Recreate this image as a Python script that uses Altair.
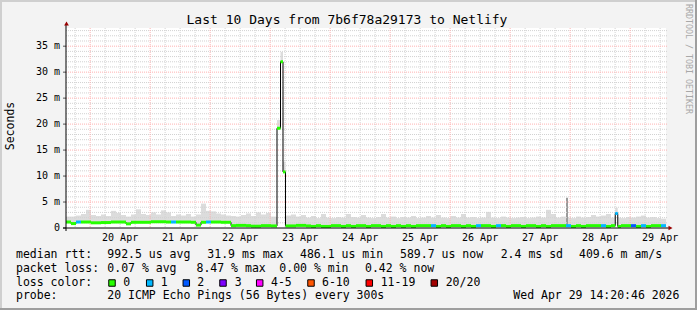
import altair as alt
import pandas as pd

# ---------------- data ----------------
T0 = 14.35          # first sample: 19 Apr 14:20, in hours after 19 Apr 00:00
SLOT = 2.0          # hours per consolidated step

# median rtt per 2-hour step, milliseconds
med_ms = [
    1.15, 0.85, 1.15, 1.15, 1.15, 1.0, 1.0, 1.05, 1.05, 1.15,
    1.15, 1.15, 0.8, 1.1, 1.1, 1.1, 1.1, 1.2, 1.2, 1.2,
    1.15, 1.15, 1.15, 1.15, 1.15, 1.1, 0.55, 1.1, 1.15, 1.15,
    1.15, 1.1, 1.1, 0.45, 0.5, 0.5, 0.45, 0.35, 0.35, 0.45,
    0.45, 0.4, 0.4, 0.4, 0.4, 0.4, 0.5, 0.5, 0.4, 0.3,
    0.45, 0.3, 0.3, 0.45, 0.45, 0.3, 0.45, 0.3, 0.45, 0.45,
    0.3, 0.45, 0.45, 0.3, 0.45, 0.3, 0.45, 0.3, 0.45, 0.3,
    0.45, 0.45, 0.45, 0.45, 0.3, 0.45, 0.3, 0.45, 0.45, 0.3,
    0.45, 0.3, 0.45, 0.45, 0.45, 0.3, 0.45, 0.45, 0.3, 0.45,
    0.45, 0.3, 0.45, 0.45, 0.3, 0.45, 0.3, 0.45, 0.45, 0.45,
    0.45, 0.3, 0.45, 0.3, 0.45, 0.45, 0.45, 0.45, 0.3, 0.45,
    0.3, 0.45, 0.45, 0.45, 0.3, 0.45, 0.3, 0.45, 0.45, 0.45,
]
# upper edge of the smoke per 2-hour step, milliseconds
top_ms = [
    2.2, 2.2, 2.4, 2.7, 3.5, 2.5, 2.3, 2.6, 2.3, 3.3,
    2.9, 2.5, 2.2, 2.6, 3.6, 2.7, 2.5, 3.0, 2.6, 3.4,
    3.0, 2.3, 2.6, 2.4, 2.7, 2.2, 2.6, 4.7, 3.3, 3.2,
    2.8, 2.6, 2.4, 2.3, 2.2, 2.5, 2.8, 2.3, 3.0, 2.6,
    2.9, 2.2, 2.0, 2.0, 2.4, 2.6, 2.2, 2.5, 2.0, 2.3,
    1.9, 2.7, 2.0, 1.9, 2.1, 2.0, 2.7, 2.1, 2.0, 2.5,
    2.0, 1.9, 2.1, 2.7, 2.0, 2.2, 1.9, 2.1, 2.0, 2.3,
    1.9, 2.0, 2.3, 2.0, 2.5, 2.0, 1.9, 2.3, 2.0, 2.7,
    2.0, 2.1, 1.9, 2.0, 3.1, 2.0, 1.9, 2.2, 2.0, 1.9,
    2.0, 2.1, 1.9, 2.0, 2.2, 2.0, 3.5, 2.7, 2.0, 2.2,
    2.0, 1.9, 2.2, 2.0, 2.1, 2.5, 2.2, 2.4, 2.7, 2.0,
    2.0, 1.9, 2.1, 2.0, 2.2, 2.4, 2.0, 2.1, 1.9, 1.8,
]
# lost pings (of 20) per 2-hour step
loss = [
    0, 0, 1, 0, 0, 0, 0, 0, 0, 0,
    0, 0, 0, 0, 0, 0, 0, 0, 0, 0,
    0, 1, 0, 0, 0, 0, 0, 0, 1, 0,
    0, 0, 0, 0, 0, 0, 0, 0, 0, 0,
    0, 0, 0, 0, 0, 0, 0, 0, 0, 0,
    0, 0, 0, 0, 0, 0, 0, 0, 0, 0,
    0, 0, 0, 0, 0, 0, 0, 0, 0, 0,
    0, 0, 0, 1, 0, 0, 0, 0, 0, 0,
    0, 0, 1, 0, 0, 0, 1, 0, 0, 0,
    0, 0, 0, 0, 0, 0, 0, 0, 0, 0,
    1, 0, 0, 0, 0, 0, 0, 1, 0, 0,
    0, 0, 0, 2, 0, 1, 0, 0, 0, 1,
]
# short latency spikes (hours after 19 Apr 00:00)
spike_start_h = [98.75, 100.15, 101.15, 234.05]
spike_end_h = [100.15, 101.15, 102.15, 235.05]
spike_med_ms = [19.2, 32.0, 10.8, 2.8]
spike_top_ms = [20.8, 33.9, 12.8, 3.9]
spike_loss = [0, 0, 0, 1]
# single dense smoke outlier (27 Apr)
out_start_h = [214.35]
out_end_h = [215.15]
out_base_ms = [0.45]
out_top_ms = [5.8]

day_labels = ["20 Apr", "21 Apr", "22 Apr", "23 Apr", "24 Apr",
              "25 Apr", "26 Apr", "27 Apr", "28 Apr", "29 Apr"]
day_noon_h = [36, 60, 84, 108, 132, 156, 180, 204, 228, 252]
y_tick_vals = [0, 5, 10, 15, 20, 25, 30, 35]
y_tick_text = ["0", "5 m", "10 m", "15 m", "20 m", "25 m", "30 m", "35 m"]

loss_names = ["0", "1", "2", "3", "4-5", "6-10", "11-19", "20/20"]
loss_colors = ["#26ff00", "#00b8ff", "#0059ff", "#7e00ff",
               "#ff00ff", "#ff5500", "#ff0000", "#a10000"]

title_text = "Last 10 Days from 7b6f78a29173 to Netlify"
row1 = ["median rtt:", "992.5 us avg", "31.9 ms max", "486.1 us min",
        "589.7 us now", "2.4 ms sd", "409.6 m am/s"]
row2 = ["packet loss:", "0.07 % avg", "8.47 % max", "0.00 % min", "0.42 % now"]
row3_head = "loss color:"
row4 = ["probe:", "20 ICMP Echo Pings (56 Bytes) every 300s",
        "Wed Apr 29 14:20:46 2026"]

# ---------------- layout ----------------
PL, PT, W, H = 66, 28, 600, 200
TOTAL_W, TOTAL_H = 697, 310
FONT = "DejaVu Sans Mono"
YMAX = 38.5

N = len(med_ms)
assert len(top_ms) == N and len(loss) == N

xs = alt.Scale(domain=[T0, T0 + SLOT * N], nice=False, zero=False)
ys = alt.Scale(domain=[0, YMAX], nice=False, zero=False)

# build step pieces
pieces = [dict(s=T0 + SLOT * k, e=T0 + SLOT * (k + 1), med=med_ms[k],
               top=top_ms[k], loss=loss[k]) for k in range(N)]
for s, e, m, t, l in zip(spike_start_h, spike_end_h, spike_med_ms,
                         spike_top_ms, spike_loss):
    new = []
    for p in pieces:
        if p["e"] <= s or p["s"] >= e:
            new.append(p)
            continue
        if p["s"] < s:
            new.append({**p, "e": s})
        if p["e"] > e:
            new.append({**p, "s": e})
    new.append(dict(s=s, e=e, med=m, top=t, loss=l))
    pieces = sorted(new, key=lambda p: p["s"])

seg = pd.DataFrame(pieces)
seg["col"] = [loss_colors[min(int(v), 2)] for v in seg["loss"]]
pts = []
for i, p in enumerate(pieces):
    pts.append(dict(t=p["s"], v=p["med"], o=2 * i))
    pts.append(dict(t=p["e"], v=p["med"], o=2 * i + 1))
line_df = pd.DataFrame(pts)
out_df = pd.DataFrame(dict(s=out_start_h, e=out_end_h, b=out_base_ms, t=out_top_ms))

# grids
minor_v = [h for h in range(18, 255, 6) if h % 24 != 0]
major_v = [h for h in range(24, 255, 24)]
minor_h = [v for v in range(1, 39) if v % 5 != 0]
major_h = [v for v in range(5, 39, 5)]

layers = []

smoke = alt.Chart(seg).mark_rect(color="#dcdcdc").encode(
    x=alt.X("s:Q", scale=xs, axis=None), x2="e:Q",
    y=alt.Y("med:Q", scale=ys, axis=None), y2="top:Q")
layers.append(smoke)

outl = alt.Chart(out_df).mark_rect(color="#9a9a9a").encode(
    x=alt.X("s:Q", scale=xs, axis=None), x2="e:Q",
    y=alt.Y("b:Q", scale=ys, axis=None), y2="t:Q")
layers.append(outl)

MINOR_C = "#d2d2d2"
MAJOR_C = "#ffb2b2"
gv_minor = alt.Chart(pd.DataFrame(dict(h=minor_v))).mark_rule(
    color=MINOR_C, strokeDash=[1, 1], strokeWidth=1).encode(
    x=alt.X("h:Q", scale=xs, axis=None), y=alt.value(0), y2=alt.value(H))
gh_minor = alt.Chart(pd.DataFrame(dict(v=minor_h))).mark_rule(
    color=MINOR_C, strokeDash=[1, 1], strokeWidth=1).encode(
    y=alt.Y("v:Q", scale=ys, axis=None), x=alt.value(0), x2=alt.value(W + 2))
gv_major = alt.Chart(pd.DataFrame(dict(h=major_v))).mark_rule(
    color=MAJOR_C, strokeDash=[1, 1], strokeWidth=1).encode(
    x=alt.X("h:Q", scale=xs, axis=None), y=alt.value(0), y2=alt.value(H))
gh_major = alt.Chart(pd.DataFrame(dict(v=major_h))).mark_rule(
    color=MAJOR_C, strokeDash=[1, 1], strokeWidth=1).encode(
    y=alt.Y("v:Q", scale=ys, axis=None), x=alt.value(0), x2=alt.value(W + 2))
layers += [gv_minor, gh_minor, gv_major, gh_major]

medline = alt.Chart(line_df).mark_line(color="#000000", strokeWidth=1).encode(
    x=alt.X("t:Q", scale=xs, axis=None), y=alt.Y("v:Q", scale=ys, axis=None),
    order="o:Q")
layers.append(medline)

bands = alt.Chart(seg).mark_rule(strokeWidth=3, strokeCap="butt").encode(
    x=alt.X("s:Q", scale=xs, axis=None), x2="e:Q",
    y=alt.Y("med:Q", scale=ys, axis=None),
    color=alt.Color("col:N", scale=None))
layers.append(bands)

# y tick marks and labels
ytk = pd.DataFrame(dict(v=y_tick_vals, txt=y_tick_text))
layers.append(alt.Chart(ytk).mark_rule(color="#555555").encode(
    y=alt.Y("v:Q", scale=ys, axis=None), x=alt.value(-3), x2=alt.value(0)))
layers.append(alt.Chart(ytk).mark_text(
    font=FONT, fontSize=10, align="right", baseline="middle", color="#000000").encode(
    y=alt.Y("v:Q", scale=ys, axis=None), x=alt.value(-6), text="txt:N"))

# x labels
xl = pd.DataFrame(dict(h=day_noon_h, txt=day_labels))
layers.append(alt.Chart(xl).mark_text(
    font=FONT, fontSize=10, align="center", baseline="alphabetic", color="#000000").encode(
    x=alt.X("h:Q", scale=xs, axis=None), y=alt.value(212.7), text="txt:N"))

one = pd.DataFrame(dict(k=[0]))

def rule(x, x2, y, y2, color, width=1):
    return alt.Chart(one).mark_rule(color=color, strokeWidth=width).encode(
        x=alt.value(x), x2=alt.value(x2), y=alt.value(y), y2=alt.value(y2))

def text(t, x, y, size=11.5, align="left", color="#000000", angle=0,
         baseline="alphabetic"):
    return alt.Chart(pd.DataFrame(dict(t=[t]))).mark_text(
        font=FONT, fontSize=size, align=align, baseline=baseline, color=color,
        angle=angle).encode(text="t:N", x=alt.value(x), y=alt.value(y))

# axes lines + arrows
layers.append(rule(0, 0, -4, H + 3, "#000000"))
layers.append(rule(-3, W + 3, H, H, "#000000"))
layers.append(alt.Chart(one).mark_point(shape="triangle-up", filled=True, size=22,
                                        color="#990000", opacity=1).encode(
    x=alt.value(0.5), y=alt.value(-4.5)))
layers.append(alt.Chart(one).mark_point(shape="triangle-right", filled=True, size=22,
                                        color="#990000", opacity=1).encode(
    x=alt.value(W + 4.5), y=alt.value(H)))

# frame (3D border)
layers.append(rule(-PL + 1, TOTAL_W - PL - 1, -PT + 1, -PT + 1, "#cfcfcf", 2))
layers.append(rule(-PL + 1, -PL + 1, -PT, TOTAL_H - PT, "#cfcfcf", 2))
layers.append(rule(-PL, TOTAL_W - PL, TOTAL_H - PT - 1, TOTAL_H - PT - 1, "#9e9e9e", 2))
layers.append(rule(TOTAL_W - PL - 1, TOTAL_W - PL - 1, -PT, TOTAL_H - PT, "#9e9e9e", 2))

# title, y title, watermark
layers.append(text(title_text, 347 - PL, 24 - PT, size=13, align="center"))
layers.append(text("Seconds", 11 - PL, 126 - PT, size=11.5, align="center",
                   angle=270, baseline="middle"))
layers.append(text("RRDTOOL / TOBI OETIKER", 687.5 - PL, 59 - PT, size=8.3,
                   align="center", angle=90, baseline="middle", color="#a8a8a8"))

# legend rows
row1_x = [16, 107.3, 207.3, 300, 400, 500.7, 579]
row2_x = [16, 107.3, 196.5, 279.3, 365]
row4_x = [16, 107.3, 513.3]
base_y = [258.3, 272.0, 285.7, 299.2]
for t, x in zip(row1, row1_x):
    layers.append(text(t, x - PL, base_y[0] - PT))
for t, x in zip(row2, row2_x):
    layers.append(text(t, x - PL, base_y[1] - PT))
layers.append(text(row3_head, 16 - PL, base_y[2] - PT))
box_cx = [112, 149.7, 186.3, 223, 259.7, 311, 369.3, 434.3]
lab_x = [123.3, 160.7, 197.3, 234.7, 271, 322, 380.7, 445.7]
for nm, c, bx, lx in zip(loss_names, loss_colors, box_cx, lab_x):
    layers.append(alt.Chart(one).mark_point(shape="square", filled=True, size=42,
                                            fill=c, stroke="#000000", strokeWidth=1,
                                            opacity=1).encode(
        x=alt.value(bx - PL), y=alt.value(283 - PT)))
    layers.append(text(nm, lx - PL, base_y[2] - PT))
for t, x in zip(row4, row4_x):
    layers.append(text(t, x - PL, base_y[3] - PT))

chart = alt.layer(*layers).properties(
    width=W, height=H,
    autosize=alt.AutoSizeParams(type="none"),
    padding={"left": PL, "top": PT, "right": TOTAL_W - PL - W, "bottom": TOTAL_H - PT - H},
    background="#f3f3f3",
).configure_view(stroke=None, fill="#ffffff")

chart.save("out.html", embed_options={"renderer": "svg", "actions": False})
